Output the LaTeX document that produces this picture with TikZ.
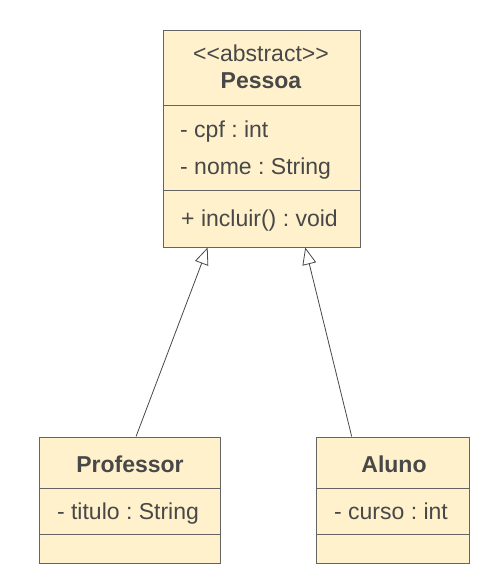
\documentclass[tikz,border=0pt]{standalone}
\usepackage{fontspec}
\usepackage{tikz}
\usetikzlibrary{arrows.meta, positioning, calc}
\newfontfamily\umlfont{Liberation Sans}
\definecolor{umlfill}{RGB}{255, 241, 204}
\definecolor{umlgray}{RGB}{100, 100, 100}
\definecolor{umlink}{RGB}{72, 72, 72}
\frenchspacing

\begin{document}
\begin{tikzpicture}[x=1pt, y=-1pt,
    umlclass/.style={draw=umlgray, fill=umlfill, line width=1pt, inner sep=0pt},
    umlrule/.style={draw=umlgray, line width=1pt},
    umltext/.style={text=umlink, inner sep=0pt, anchor=base, font=\umlfont\fontsize{23}{27}\selectfont},
    inherit/.style={draw=umlink, line width=0.8pt, -{Triangle[open, length=17pt, width=14pt, fill=white]}}]
    \useasboundingbox (0,0) rectangle (501,588);

    % Pessoa (abstract)
    \node[umlclass, minimum width=197pt, minimum height=216pt] (pessoa) at (261.5,139) {};
    \draw[umlrule] (pessoa.west |- 0,106) -- (pessoa.east |- 0,106);
    \draw[umlrule] (pessoa.west |- 0,190) -- (pessoa.east |- 0,190);
    \node[umltext] (pessoaster) at (261,62) {<<abstract>>};
    \node[umltext, font=\umlfont\fontsize{23}{27}\selectfont\bfseries] (pessoaname) at (261,89) {Pessoa};
    \node[umltext, anchor=base west] (cpf) at (180,138) {- cpf : int};
    \node[umltext, anchor=base west] (nome) at (180,174) {- nome : String};
    \node[umltext, anchor=base west] (incluir) at (181,226) {+ incluir() : void};

    % Professor
    \node[umlclass, minimum width=181pt, minimum height=126pt] (professor) at (129.5,500) {};
    \draw[umlrule] (professor.west |- 0,488) -- (professor.east |- 0,488);
    \draw[umlrule] (professor.west |- 0,534) -- (professor.east |- 0,534);
    \node[umltext, font=\umlfont\fontsize{23}{27}\selectfont\bfseries] (profname) at (130,472) {Professor};
    \node[umltext] (titulo) at (128,519) {- titulo : String};

    % Aluno
    \node[umlclass, minimum width=153pt, minimum height=126pt] (aluno) at (392.5,500) {};
    \draw[umlrule] (aluno.west |- 0,488) -- (aluno.east |- 0,488);
    \draw[umlrule] (aluno.west |- 0,534) -- (aluno.east |- 0,534);
    \node[umltext, font=\umlfont\fontsize{23}{27}\selectfont\bfseries] (alunoname) at (394,472) {Aluno};
    \node[umltext] (curso) at (391,519) {- curso : int};

    % Generalization
    \draw[inherit] ($(professor.north west)!0.536!(professor.north east)$) -- ($(pessoa.south west)!0.228!(pessoa.south east)$);
    \draw[inherit] ($(aluno.north west)!0.235!(aluno.north east)$) -- ($(pessoa.south west)!0.721!(pessoa.south east)$);
\end{tikzpicture}
\end{document}
